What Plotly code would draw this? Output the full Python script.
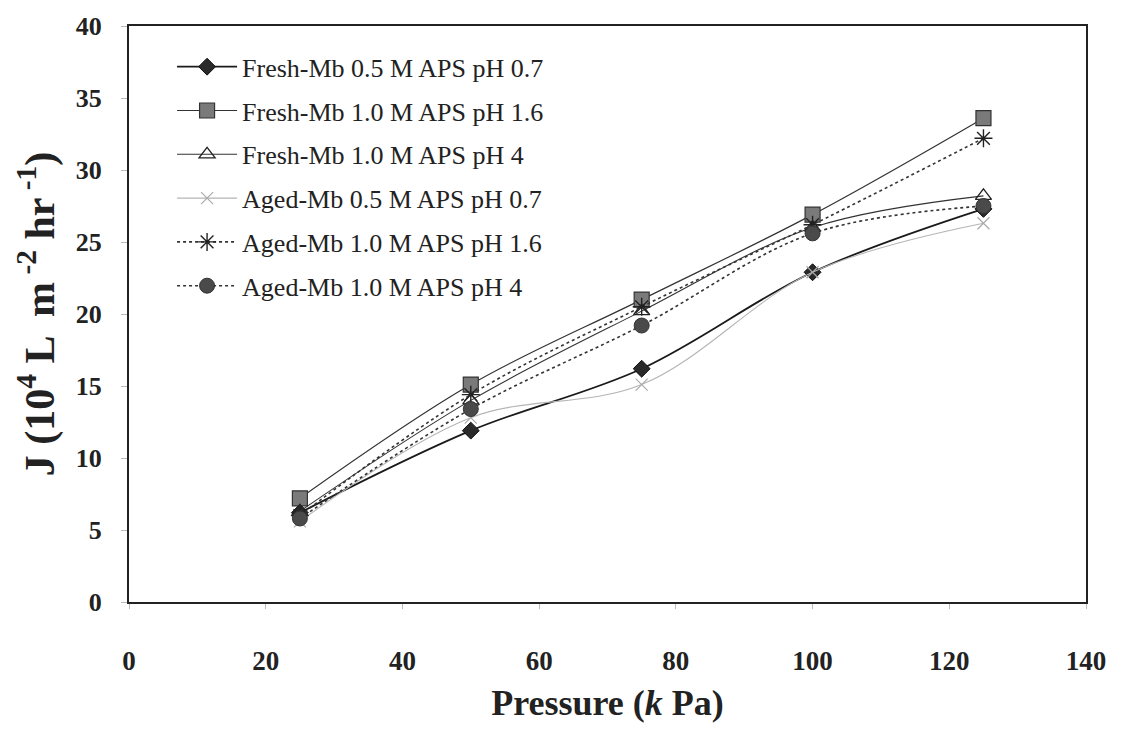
import plotly.graph_objects as go

pressure = [25, 50, 75, 100, 125]

fresh_05_ph07 = [6.2, 11.9, 16.2, 22.9, 27.3]
fresh_10_ph16 = [7.2, 15.1, 21.0, 26.9, 33.6]
fresh_10_ph4 = [6.3, 14.0, 20.2, 26.0, 28.2]
aged_05_ph07 = [5.6, 12.8, 15.1, 22.9, 26.3]
aged_10_ph16 = [6.0, 14.4, 20.5, 26.2, 32.2]
aged_10_ph4 = [5.8, 13.4, 19.2, 25.6, 27.5]

names = [
    "Fresh-Mb 0.5 M APS pH 0.7",
    "Fresh-Mb 1.0 M APS pH 1.6",
    "Fresh-Mb 1.0 M APS pH 4",
    "Aged-Mb 0.5 M APS pH 0.7",
    "Aged-Mb 1.0 M APS pH 1.6",
    "Aged-Mb 1.0 M APS pH 4",
]
series = [fresh_05_ph07, fresh_10_ph16, fresh_10_ph4, aged_05_ph07, aged_10_ph16, aged_10_ph4]

styles = [
    dict(line=dict(color="#1a1a1a", width=1.8, dash="solid", shape="spline"),
         marker=dict(symbol="diamond", size=13, color="#2a2a2a", line=dict(color="#111", width=1))),
    dict(line=dict(color="#333333", width=1.2, dash="solid", shape="spline"),
         marker=dict(symbol="square", size=15, color="#7a7a7a", line=dict(color="#333", width=1.2))),
    dict(line=dict(color="#333333", width=1.1, dash="solid", shape="spline"),
         marker=dict(symbol="triangle-up-open", size=14, color="#222", line=dict(color="#222", width=1.3))),
    dict(line=dict(color="#b5b5b5", width=1.1, dash="solid", shape="spline"),
         marker=dict(symbol="x-thin-open", size=12, color="#aaaaaa", line=dict(color="#aaaaaa", width=1.2))),
    dict(line=dict(color="#333333", width=1.6, dash="dot", shape="spline"),
         marker=dict(symbol="asterisk-open", size=15, color="#222", line=dict(color="#222", width=1.4))),
    dict(line=dict(color="#333333", width=1.6, dash="dot", shape="spline"),
         marker=dict(symbol="circle", size=15, color="#4a4a4a", line=dict(color="#333", width=1))),
]

fig = go.Figure()
for i, (nm, ys, st) in enumerate(zip(names, series, styles)):
    fig.add_trace(go.Scatter(
        x=pressure, y=ys, name=nm, mode="lines+markers",
        line=st["line"], marker=st["marker"], legendgroup=f"g{i}",
    ))

serif = "Liberation Serif, Times New Roman, serif"
fig.update_layout(
    width=1125, height=730,
    margin=dict(l=129, r=39, t=21, b=128),
    paper_bgcolor="white", plot_bgcolor="white",
    font=dict(family=serif, color="#222"),
    showlegend=True,
    legend=dict(
        x=0.045, y=0.97, xanchor="left", yanchor="top",
        font=dict(family=serif, size=26, color="#222"),
        bgcolor="rgba(0,0,0,0)", tracegroupgap=7, itemwidth=60,
    ),
    xaxis=dict(
        range=[0, 140], dtick=20, tick0=0,
        showline=True, linecolor="#222", linewidth=2, mirror=True,
        showgrid=False, zeroline=False,
        ticks="outside", ticklen=5, tickcolor="#bbb",
        ticklabelstandoff=29,
        tickfont=dict(family=serif, size=27, color="#222", weight="bold"),
        title=dict(text="Pressure (<i>k</i> Pa)", standoff=14,
                   font=dict(family=serif, size=36, color="#222", weight="bold")),
    ),
    yaxis=dict(
        range=[0, 40], dtick=5, tick0=0,
        showline=True, linecolor="#222", linewidth=2, mirror=True,
        showgrid=False, zeroline=False,
        ticks="outside", ticklen=6, tickcolor="#bbb",
        ticklabelstandoff=14,
        tickfont=dict(family=serif, size=26, color="#222", weight="bold"),
        title=dict(text="J (10<sup>4</sup> L  m<sup> -2</sup> hr<sup> -1</sup>)", standoff=8,
                   font=dict(family=serif, size=42, color="#222", weight="bold")),
    ),
)

fig.write_html("out.html")
